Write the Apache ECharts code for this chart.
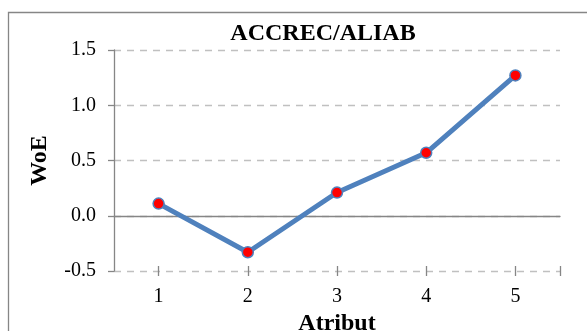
<!DOCTYPE html>
<html>
<head>
<meta charset="utf-8">
<script src="https://cdn.jsdelivr.net/npm/echarts@6/dist/echarts.min.js"></script>
<style>html,body{margin:0;padding:0;background:#fff;}#chart{width:587px;height:331px;}</style>
</head>
<body>
<div id="chart"></div>
<script>
const categories = ['1', '2', '3', '4', '5'];
const woeValues = [0.11, -0.33, 0.21, 0.57, 1.27];
const yTicks = [-0.5, 0.0, 0.5, 1.0, 1.5];
const halfSteps = ['0.5', '1', '1.5', '2', '2.5', '3', '3.5', '4', '4.5', '5', '5.5'];

const FONT = "'Liberation Serif', 'Times New Roman', serif";
const AXIS_GRAY = '#868686';

const chart = echarts.init(document.getElementById('chart'), null, {renderer: 'canvas'});

const tickAxis = (inside) => ({
  type: 'category',
  data: halfSteps,
  boundaryGap: false,
  position: 'bottom',
  axisLine: {show: false, onZero: true},
  axisTick: {
    show: true, inside: inside, length: 5,
    interval: (i) => i % 2 === 1 || i === halfSteps.length - 1,
    lineStyle: {color: AXIS_GRAY, width: 1.3}
  },
  axisLabel: {show: false},
  splitLine: {show: false}
});

chart.setOption({
  animation: false,
  title: {
    text: 'ACCREC/ALIAB',
    left: 318, top: 17, textAlign: 'center',
    textStyle: {fontFamily: FONT, fontWeight: 'bold', fontSize: 24, color: '#000'}
  },
  graphic: [{
    type: 'rect',
    shape: {x: 8.5, y: 12.5, width: 620, height: 340},
    style: {fill: null, stroke: AXIS_GRAY, lineWidth: 1.3},
    silent: true, z: -1
  }],
  grid: {left: 114, right: 27, top: 50, bottom: 60, containLabel: false, outerBoundsMode: 'none'},
  xAxis: [
    {
      type: 'category', data: categories, boundaryGap: true,
      position: 'bottom',
      axisLine: {show: true, onZero: true, lineStyle: {color: AXIS_GRAY, width: 1.3}},
      axisTick: {show: false},
      axisLabel: {show: false},
      splitLine: {show: false}
    },
    {
      type: 'category', data: categories, boundaryGap: true,
      position: 'bottom',
      axisLine: {show: false, onZero: false},
      axisTick: {show: false},
      axisLabel: {show: true, margin: 16, fontFamily: FONT, fontSize: 20, color: '#000'},
      name: 'Atribut', nameLocation: 'middle', nameGap: 40,
      nameTextStyle: {fontFamily: FONT, fontWeight: 'bold', fontSize: 24, color: '#000'},
      splitLine: {show: false}
    },
    tickAxis(true),
    tickAxis(false)
  ],
  yAxis: {
    type: 'value', min: yTicks[0], max: yTicks[yTicks.length - 1], interval: 0.5,
    axisLine: {show: true, lineStyle: {color: AXIS_GRAY, width: 1.3}},
    axisTick: {show: true, inside: false, length: 6, lineStyle: {color: AXIS_GRAY, width: 1.3}},
    axisLabel: {margin: 18, fontFamily: FONT, fontSize: 20, color: '#000', formatter: (v) => v.toFixed(1)},
    splitLine: {show: true, lineStyle: {color: '#c0c0c0', type: [7, 6], width: 1.3}},
    name: 'WoE', nameLocation: 'middle', nameGap: 62, nameRotate: 90,
    nameTextStyle: {fontFamily: FONT, fontWeight: 'bold', fontSize: 24, color: '#000'}
  },
  series: [{
    type: 'line',
    xAxisIndex: 0,
    data: woeValues,
    lineStyle: {color: '#4f81bd', width: 5},
    symbol: 'circle', symbolSize: 11,
    itemStyle: {color: '#ff0000', borderColor: '#4f81bd', borderWidth: 1.5},
    z: 5
  }]
});
</script>
</body>
</html>
